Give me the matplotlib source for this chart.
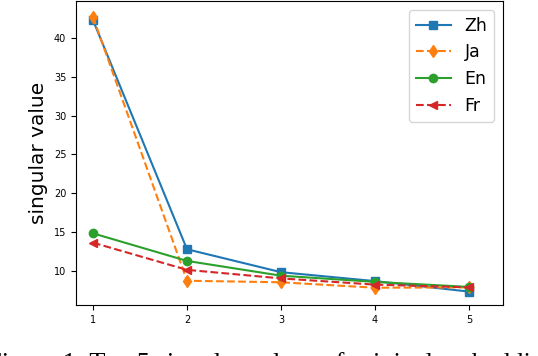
import numpy as np
import matplotlib
matplotlib.use("Agg")
import matplotlib.pyplot as plt

#### Donnees ####
rangs = [1, 2, 3, 4, 5]
zh = [42.3, 12.8, 9.85, 8.7, 7.35]
ja = [42.7, 8.75, 8.55, 7.85, 7.9]
en = [14.85, 11.3, 9.4, 8.6, 7.95]
fr = [13.65, 10.15, 9.05, 8.25, 7.9]
#################

fig = plt.figure(figsize=(5.38, 3.56), dpi=100)
ax = fig.add_axes([0.1413, 0.1433, 0.7937, 0.854])

ax.plot(rangs, zh, color='C0', marker='s', linestyle='-', label='Zh')
ax.plot(rangs, ja, color='C1', marker='d', linestyle='--', label='Ja')
ax.plot(rangs, en, color='C2', marker='o', linestyle='-', label='En')
ax.plot(rangs, fr, color='C3', marker='<', linestyle='--', label='Fr')

ax.set_xlim(0.82, 5.36)
ax.set_ylim(5.63, 44.75)
ax.set_xticks(rangs)
ax.set_yticks([10, 15, 20, 25, 30, 35, 40])
ax.tick_params(labelsize=7)
ax.set_ylabel('singular value', fontsize=14.5)

ax.legend(loc='upper right', fontsize=12.5)

# legende de la figure (coupee en bas, seul le haut des lettres est visible)
fig.text(-0.025, -0.039, 'Figure 1: Top 5 singular values of original embeddings',
         family='Liberation Serif', fontsize=19, va='baseline', ha='left')

fig.savefig('out.png', dpi=100)
